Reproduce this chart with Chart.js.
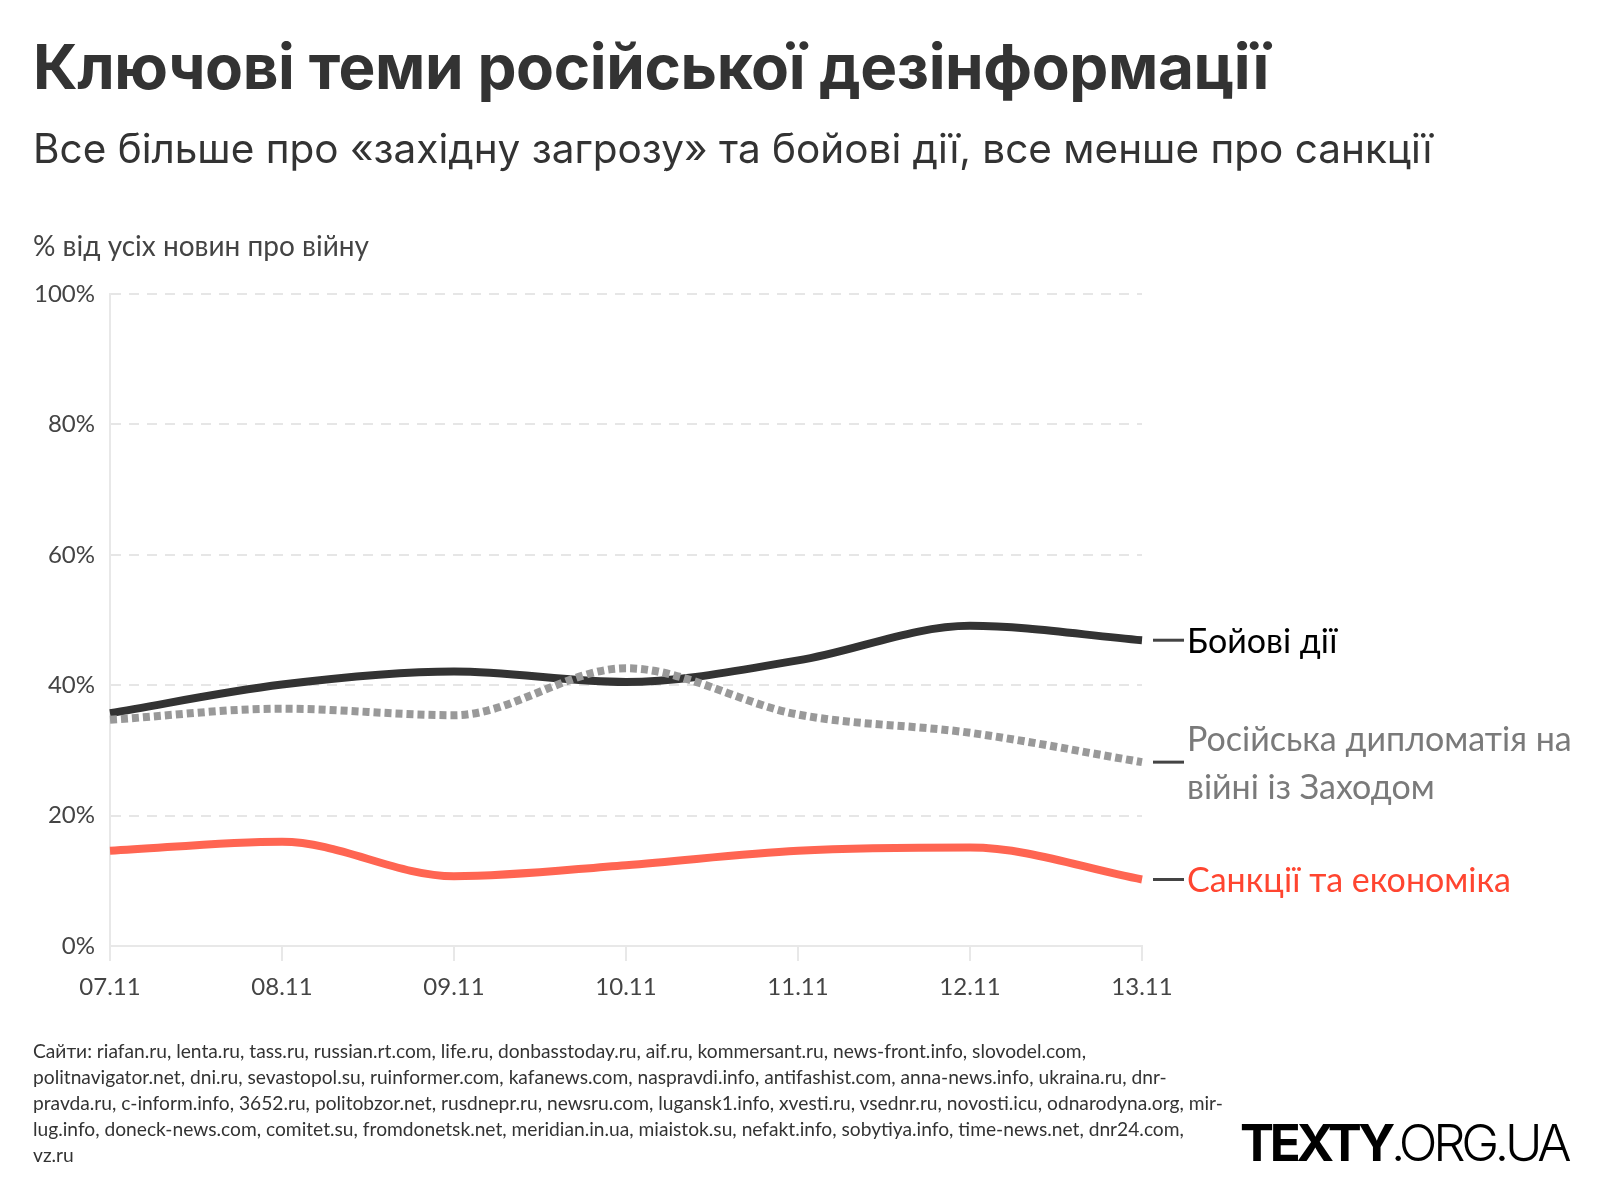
<!DOCTYPE html>
<html lang="uk">
<head>
<meta charset="UTF-8">
<title>Ключові теми російської дезінформації</title>
<script src="https://cdn.jsdelivr.net/npm/chart.js"></script>
<style>
  html, body { margin: 0; padding: 0; background: #fff; }
  body { width: 1600px; height: 1200px; position: relative; overflow: hidden; }
  #wrap { position: absolute; left: 0; top: 0; width: 1600px; height: 1200px; }
  .t { position: absolute; white-space: nowrap; }
  #title { left: 33px; top: 29px; font: 700 62px Inter, Roboto, sans-serif; color: #333; letter-spacing: -0.4px; }
  #sub { left: 33px; top: 124px; font: 400 40.5px Inter, Roboto, sans-serif; color: #333; }
  #unit { left: 33px; top: 228px; font: 400 28px Lato, sans-serif; color: #444; }
  #foot { left: 33px; top: 1038px; font: 400 19.2px Lato, sans-serif; color: #333; line-height: 26px; }
  #logo { left: 1240px; top: 1112px; font-family: Inter, Roboto, sans-serif; font-size: 51px; color: #000; letter-spacing: -4.3px; }
  #logo b { font-weight: 700; }
  #logo span { font-weight: 300; }
  .lab { position: absolute; left: 1187px; font: 400 34px Lato, sans-serif; line-height: 48px; white-space: nowrap; }
</style>
</head>
<body>
<div id="wrap"><canvas id="grafico"></canvas></div>

<div class="t" id="title">Ключові теми російської дезінформації</div>
<div class="t" id="sub">Все більше про «західну загрозу» та бойові дії, все менше про санкції</div>
<div class="t" id="unit">% від усіх новин про війну</div>
<div class="t" id="foot">Сайти: riafan.ru, lenta.ru, tass.ru, russian.rt.com, life.ru, donbasstoday.ru, aif.ru, kommersant.ru, news-front.info, slovodel.com,<br>politnavigator.net, dni.ru, sevastopol.su, ruinformer.com, kafanews.com, naspravdi.info, antifashist.com, anna-news.info, ukraina.ru, dnr-<br>pravda.ru, c-inform.info, 3652.ru, politobzor.net, rusdnepr.ru, newsru.com, lugansk1.info, xvesti.ru, vsednr.ru, novosti.icu, odnarodyna.org, mir-<br>lug.info, doneck-news.com, comitet.su, fromdonetsk.net, meridian.in.ua, miaistok.su, nefakt.info, sobytiya.info, time-news.net, dnr24.com,<br>vz.ru</div>
<div class="t" id="logo"><b>TEXTY</b><span>.ORG.UA</span></div>

<div class="lab" id="lab0" style="color:#000">Бойові дії</div>
<div class="lab" id="lab1" style="color:#7a7a7a">Російська дипломатія на<br>війні із Заходом</div>
<div class="lab" id="lab2" style="color:#ff4530">Санкції та економіка</div>

<script>
  // datas
  var dias = ['07.11', '08.11', '09.11', '10.11', '11.11', '12.11', '13.11'];
  var boiovi = [35.7, 40.1, 42.1, 40.5, 43.8, 49.1, 46.9];
  var diplomatia = [34.7, 36.4, 35.4, 42.6, 35.5, 32.7, 28.2];
  var sankcii = [14.6, 16.0, 10.7, 12.4, 14.6, 15.1, 10.2];
  var ticksY = [0, 20, 40, 60, 80, 100];

  var fonteEixo = { family: 'Lato, sans-serif', size: 24 };

  // linhas de etiqueta a direita + posiciona os textos
  var etiquetas = {
    id: 'etiquetas',
    afterDraw: function (chart) {
      var ctx = chart.ctx;
      var y = chart.scales.y;
      var x = chart.scales.x;
      var ultimos = [boiovi, diplomatia, sankcii];
      var xr = x.getPixelForValue(dias.length - 1);
      ctx.save();
      ctx.strokeStyle = '#444';
      ctx.lineWidth = 3;
      for (var i = 0; i < ultimos.length; i++) {
        var v = ultimos[i][ultimos[i].length - 1];
        var py = y.getPixelForValue(v);
        ctx.beginPath();
        ctx.moveTo(xr + 11, py);
        ctx.lineTo(xr + 42, py);
        ctx.stroke();
        var el = document.getElementById('lab' + i);
        el.style.top = (py - el.offsetHeight / 2) + 'px';
      }
      ctx.restore();
    }
  };

  new Chart(document.getElementById('grafico'), {
    type: 'line',
    data: {
      labels: dias,
      datasets: [
        { label: 'Санкції та економіка', data: sankcii, borderColor: '#ff6552', borderWidth: 8 },
        { label: 'Російська дипломатія на війні із Заходом', data: diplomatia, borderColor: '#999999', borderWidth: 8, borderDash: [7, 4] },
        { label: 'Бойові дії', data: boiovi, borderColor: '#333333', borderWidth: 8 }
      ]
    },
    options: {
      responsive: true,
      maintainAspectRatio: false,
      animation: false,
      elements: {
        line: { cubicInterpolationMode: 'monotone', borderCapStyle: 'butt', fill: false },
        point: { radius: 0, hoverRadius: 0 }
      },
      layout: { padding: { left: 0, top: 294, right: 458, bottom: 194 } },
      plugins: { legend: { display: false }, tooltip: { enabled: false } },
      scales: {
        x: {
          offset: false,
          afterFit: function (s) { s.height = 60; },
          grid: { drawOnChartArea: false, drawTicks: true, tickLength: 15, color: '#e8e8e8', lineWidth: 2 },
          border: { display: true, color: '#e8e8e8', width: 2 },
          ticks: { color: '#444', font: fonteEixo, padding: 12, maxRotation: 0 }
        },
        y: {
          min: 0,
          max: 100,
          afterFit: function (s) { s.width = 110; },
          afterBuildTicks: function (s) { s.ticks = ticksY.map(function (v) { return { value: v }; }); },
          grid: {
            drawTicks: false,
            color: function (c) { return c.tick && c.tick.value === 0 ? 'rgba(0,0,0,0)' : '#e6e6e6'; },
            lineWidth: 2
          },
          border: { display: true, color: '#e8e8e8', width: 2, dash: [10, 8] },
          ticks: { color: '#444', font: fonteEixo, padding: 15, callback: function (v) { return v + '%'; } }
        }
      }
    },
    plugins: [etiquetas]
  });
</script>
</body>
</html>
